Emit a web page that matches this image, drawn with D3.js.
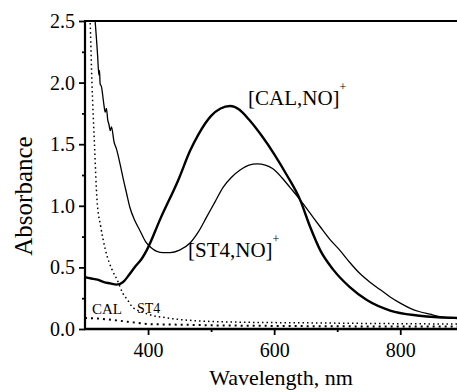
<!DOCTYPE html>
<html>
<head>
<meta charset="utf-8">
<script src="https://cdn.jsdelivr.net/npm/d3@7"></script>
</head>
<body style="margin:0">
<svg id="chart" width="457" height="392"></svg>
<script>
// wavelength (nm) / absorbance pairs
const calNO = [
  [300, 0.42], [310, 0.41], [320, 0.40], [330, 0.38], [340, 0.37], [350, 0.36],
  [360, 0.38], [370, 0.44], [380, 0.51], [390, 0.57], [398, 0.64], [420, 0.90],
  [448, 1.21], [467, 1.45], [480, 1.58], [500, 1.73], [515, 1.79], [530, 1.81],
  [545, 1.78], [560, 1.70], [580, 1.57], [600, 1.42], [620, 1.25], [641, 1.05],
  [657, 0.83], [673, 0.64], [694, 0.48], [720, 0.34], [747, 0.235], [784, 0.15],
  [827, 0.11], [860, 0.095], [890, 0.09]
];
const st4NO = [
  [312, 2.70], [316, 2.50], [320, 2.22], [322, 2.06], [323, 2.10], [324, 1.99],
  [326, 1.97], [330, 1.82], [332, 1.76], [334, 1.79], [336, 1.70], [338, 1.66],
  [340, 1.61], [342, 1.64], [346, 1.52], [350, 1.46], [356, 1.33], [361, 1.21],
  [366, 1.10], [371, 0.99], [379, 0.88], [387, 0.80], [396, 0.71], [405, 0.66],
  [414, 0.63], [424, 0.62], [435, 0.62], [450, 0.64], [467, 0.70], [480, 0.79],
  [493, 0.91], [506, 1.03], [519, 1.15], [532, 1.23], [546, 1.29], [560, 1.33],
  [573, 1.34], [586, 1.33], [598, 1.30], [612, 1.23], [625, 1.15], [641, 1.05],
  [657, 0.94], [673, 0.83], [688, 0.73], [704, 0.64], [720, 0.54], [736, 0.45],
  [752, 0.38], [768, 0.32], [784, 0.26], [800, 0.21], [815, 0.17], [831, 0.14],
  [847, 0.12], [863, 0.10], [890, 0.085]
];
const calFree = [
  [300, 0.09], [320, 0.085], [350, 0.07], [382, 0.05], [400, 0.04], [450, 0.035],
  [500, 0.03], [600, 0.025], [700, 0.022], [800, 0.02], [890, 0.02]
];
const st4Free = [
  [304, 2.70], [308, 2.50], [311, 2.00], [315, 1.50], [319, 1.05], [325, 0.83],
  [332, 0.65], [343, 0.48], [351, 0.40], [360, 0.29], [367, 0.24], [375, 0.18],
  [390, 0.14], [400, 0.12], [430, 0.09], [483, 0.065], [550, 0.055], [650, 0.05],
  [750, 0.045], [890, 0.04]
];
const yTicks = [0.0, 0.5, 1.0, 1.5, 2.0, 2.5];
const yMinorTicks = [0.25, 0.75, 1.25, 1.75, 2.25];
const xTicks = [400, 600, 800];
const xMinorTicks = [500, 700];

const svg = d3.select('#chart');
const margin = {top: 21, right: 0, bottom: 63, left: 85};
const width = 457 - margin.left - margin.right;
const height = 392 - margin.top - margin.bottom;

const x = d3.scaleLinear().domain([300, 890]).range([0, width]);
const y = d3.scaleLinear().domain([0, 2.5]).range([height, 0]);

const g = svg.append('g').attr('transform', `translate(${margin.left},${margin.top})`);

g.append('clipPath').attr('id', 'clip')
  .append('rect').attr('x', 0).attr('y', 0).attr('width', width).attr('height', height);

const line = d3.line().x(d => x(d[0])).y(d => y(d[1])).curve(d3.curveMonotoneX);
const plot = g.append('g').attr('clip-path', 'url(#clip)');

plot.append('path').datum(calFree)
  .attr('d', line).attr('fill', 'none').attr('stroke', '#000')
  .attr('stroke-width', 2).attr('stroke-dasharray', '2,4');
plot.append('path').datum(st4Free)
  .attr('d', line).attr('fill', 'none').attr('stroke', '#000')
  .attr('stroke-width', 1.5).attr('stroke-dasharray', '1.5,3');
plot.append('path').datum(st4NO)
  .attr('d', line).attr('fill', 'none').attr('stroke', '#000').attr('stroke-width', 1.3);
plot.append('path').datum(calNO)
  .attr('d', line).attr('fill', 'none').attr('stroke', '#000').attr('stroke-width', 2.4);

// axes
const yAxis = d3.axisLeft(y).tickValues(yTicks).tickFormat(d3.format('.1f')).tickSize(6).tickPadding(4);
const yMinor = d3.axisLeft(y).tickValues(yMinorTicks).tickFormat('').tickSize(3);
const xAxis = d3.axisBottom(x).tickValues(xTicks).tickSize(6).tickPadding(8);
const xMinor = d3.axisBottom(x).tickValues(xMinorTicks).tickFormat('').tickSize(3);

function style(sel) {
  sel.attr('font-family', null).attr('font-size', null);
  sel.select('.domain').remove();
  sel.selectAll('line').attr('stroke', '#000').attr('stroke-width', 1.8);
  sel.selectAll('text').style('font-size', '20px').attr('fill', '#000');
}

g.append('g').call(yAxis).call(style);
g.append('g').call(yMinor).call(style);
g.append('g').attr('transform', `translate(0,${height})`).call(xAxis).call(style);
g.append('g').attr('transform', `translate(0,${height})`).call(xMinor).call(style);

// frame lines
g.append('line').attr('x1', 0).attr('x2', 0).attr('y1', 0).attr('y2', height)
  .attr('stroke', '#000').attr('stroke-width', 2.2);
g.append('line').attr('x1', -1).attr('x2', width).attr('y1', 0).attr('y2', 0)
  .attr('stroke', '#000').attr('stroke-width', 2.2);
g.append('line').attr('x1', -1).attr('x2', width).attr('y1', height).attr('y2', height)
  .attr('stroke', '#000').attr('stroke-width', 2.6);

// axis titles
svg.append('text')
  .attr('transform', 'translate(32,196) rotate(-90)')
  .attr('text-anchor', 'middle').style('font-size', '25px').text('Absorbance');
svg.append('text')
  .attr('x', 281).attr('y', 385)
  .attr('text-anchor', 'middle').style('font-size', '22px').text('Wavelength, nm');

// curve labels
function label(xp, yp, txt, size, sup) {
  const t = svg.append('text').attr('x', xp).attr('y', yp).style('font-size', size + 'px').text(txt);
  if (sup) {
    t.append('tspan').attr('dy', -14).style('font-size', '12px').text(sup);
  }
}
label(248, 105, '[CAL,NO]', 21, '+');
label(188, 257, '[ST4,NO]', 21, '+');
label(92, 314, 'CAL', 15);
label(137, 313, 'ST4', 14);

svg.selectAll('text').style('font-family', '"Liberation Serif", serif').attr('fill', '#000');
</script>
</body>
</html>
